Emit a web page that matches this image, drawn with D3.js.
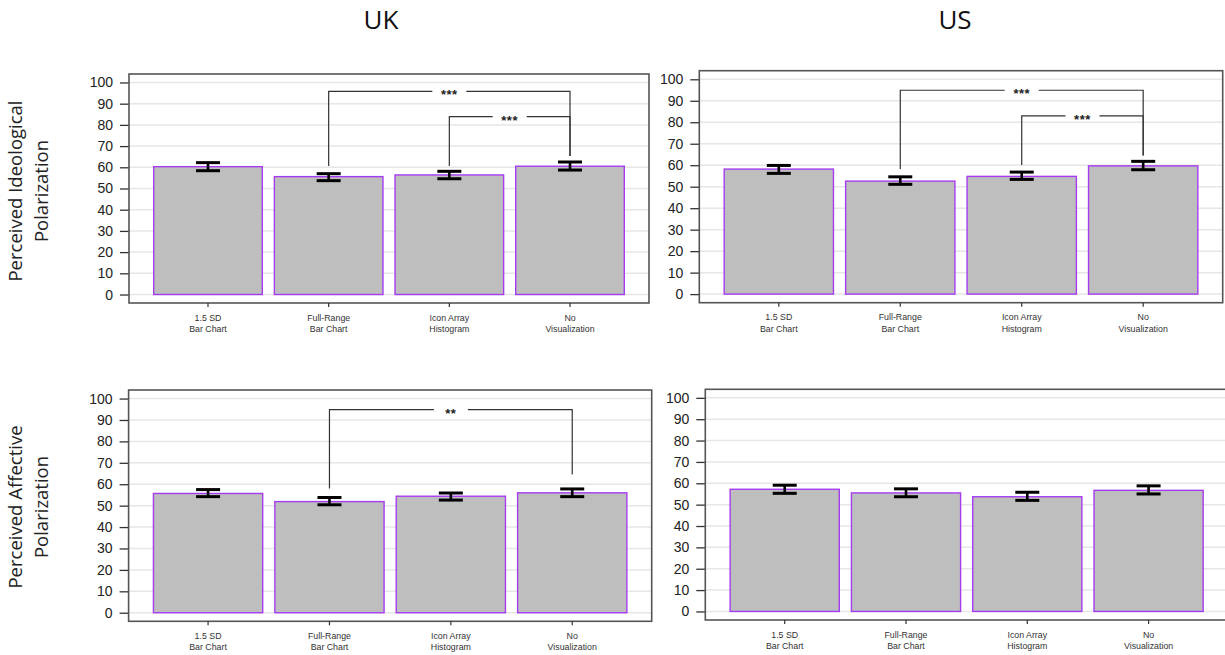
<!DOCTYPE html>
<html>
<head>
<meta charset="utf-8">
<script src="https://cdn.jsdelivr.net/npm/d3@7/dist/d3.min.js"></script>
<style>
  html, body { margin: 0; padding: 0; background: #fff; }
  svg { display: block; }
</style>
</head>
<body>
<svg id="chart" width="1225" height="655"></svg>
<script>
// ---------------- DATA ----------------
const catLine1 = ["1.5 SD", "Full-Range", "Icon Array", "No"];
const catLine2 = ["Bar Chart", "Bar Chart", "Histogram", "Visualization"];
const yTicks = [0, 10, 20, 30, 40, 50, 60, 70, 80, 90, 100];

const countryTitles = ["UK", "US"];
const rowTitles = [["Perceived Ideological", "Polarization"], ["Perceived Affective", "Polarization"]];

// UK – ideological
const ukIdeoMean = [60.3, 55.6, 56.4, 60.5];
const ukIdeoLo   = [58.4, 53.7, 54.6, 58.7];
const ukIdeoHi   = [62.2, 57.0, 58.1, 62.5];
// US – ideological
const usIdeoMean = [58.2, 52.6, 54.8, 59.7];
const usIdeoLo   = [56.2, 51.1, 53.4, 57.9];
const usIdeoHi   = [59.9, 54.6, 56.8, 61.8];
// UK – affective
const ukAffMean  = [55.7, 51.9, 54.4, 56.0];
const ukAffLo    = [54.2, 50.4, 52.6, 54.2];
const ukAffHi    = [57.5, 53.8, 55.9, 57.8];
// US – affective
const usAffMean  = [57.2, 55.5, 53.7, 56.7];
const usAffLo    = [55.3, 53.7, 52.0, 55.0];
const usAffHi    = [59.1, 57.4, 55.8, 58.8];

// significance brackets: from/to category index, bracket level, leg ends, label
const ukIdeoSig = [
  { from: 1, to: 3, level: 95.8, fromEnd: 60.6, toEnd: 65.3, label: "***" },
  { from: 2, to: 3, level: 83.9, fromEnd: 60.6, toEnd: 65.3, label: "***" }
];
const usIdeoSig = [
  { from: 1, to: 3, level: 94.9, fromEnd: 58.2, toEnd: 64.5, label: "***" },
  { from: 2, to: 3, level: 83.0, fromEnd: 60.1, toEnd: 64.5, label: "***" }
];
const ukAffSig = [
  { from: 1, to: 3, level: 94.8, fromEnd: 58.0, toEnd: 64.6, label: "**" }
];
const usAffSig = [];

// ---------------- LAYOUT ----------------
const panels = [
  { frame: { x0: 129,   x1: 649,    y0: 74,    y1: 303 },   mean: ukIdeoMean, lo: ukIdeoLo, hi: ukIdeoHi, sig: ukIdeoSig },
  { frame: { x0: 699.3, x1: 1222.7, y0: 70.7,  y1: 302.7 }, mean: usIdeoMean, lo: usIdeoLo, hi: usIdeoHi, sig: usIdeoSig },
  { frame: { x0: 128.6, x1: 651.7,  y0: 390,   y1: 621.3 }, mean: ukAffMean,  lo: ukAffLo,  hi: ukAffHi,  sig: ukAffSig },
  { frame: { x0: 705.3, x1: 1228,   y0: 389.3, y1: 620 },   mean: usAffMean,  lo: usAffLo,  hi: usAffHi,  sig: usAffSig }
];

const svg = d3.select("#chart");
const tickFont = "'Liberation Sans', Arial, sans-serif";
const titleFont = "'Open Sans', 'Noto Sans', sans-serif";

// column titles
const titleX = [381, 955];
countryTitles.forEach((t, i) => {
  svg.append("text")
    .attr("x", titleX[i]).attr("y", 29)
    .attr("text-anchor", "middle")
    .attr("font-family", titleFont)
    .attr("font-size", 26)
    .attr("fill", "#111")
    .text(t);
});

// row titles
const rowCenterY = [191, 507];
rowTitles.forEach((lines, r) => {
  lines.forEach((ln, j) => {
    const cx = j === 0 ? 16 : 42;
    svg.append("text")
      .attr("transform", `translate(${cx},${rowCenterY[r]}) rotate(-90)`)
      .attr("text-anchor", "middle")
      .attr("dy", "0.35em")
      .attr("font-family", titleFont)
      .attr("font-size", 18.5)
      .attr("fill", "#222")
      .text(ln);
  });
});

panels.forEach(p => {
  const f = p.frame;
  const w = f.x1 - f.x0;
  const g = svg.append("g");

  const y = d3.scaleLinear().domain([-4, 104]).range([f.y1, f.y0]);
  const x = d3.scaleBand()
    .domain(d3.range(catLine1.length))
    .range([f.x0 + 0.0475 * w, f.x1 - 0.0475 * w])
    .paddingInner(0.1)
    .paddingOuter(0);

  // gridlines
  g.append("g").selectAll("line").data(yTicks).join("line")
    .attr("x1", f.x0).attr("x2", f.x1)
    .attr("y1", d => y(d)).attr("y2", d => y(d))
    .attr("stroke", "#e6e6e6").attr("stroke-width", 1.5);

  // y axis (ticks + labels) via d3.axisLeft
  const yAxis = d3.axisLeft(y).tickValues(yTicks).tickSize(9).tickPadding(7).tickFormat(d3.format("d"));
  const ya = g.append("g").attr("transform", `translate(${f.x0},0)`).call(yAxis);
  ya.select(".domain").remove();
  ya.selectAll(".tick line").attr("stroke", "#333").attr("stroke-width", 1.3);
  ya.selectAll(".tick text")
    .attr("font-family", tickFont).attr("font-size", 14).attr("fill", "#222");

  // bars
  g.append("g").selectAll("rect").data(p.mean).join("rect")
    .attr("x", (d, i) => x(i))
    .attr("width", x.bandwidth())
    .attr("y", d => y(d))
    .attr("height", d => y(0) - y(d))
    .attr("fill", "#bebebe")
    .attr("stroke", "#a63cf2")
    .attr("stroke-width", 1.4);

  // error bars
  const eb = g.append("g").attr("stroke", "#000").attr("fill", "none");
  p.mean.forEach((m, i) => {
    const cx = x(i) + x.bandwidth() / 2;
    eb.append("line").attr("x1", cx).attr("x2", cx)
      .attr("y1", y(p.lo[i])).attr("y2", y(p.hi[i])).attr("stroke-width", 2.6);
    [p.lo[i], p.hi[i]].forEach(v => {
      eb.append("line").attr("x1", cx - 12).attr("x2", cx + 12)
        .attr("y1", y(v)).attr("y2", y(v)).attr("stroke-width", 3);
    });
  });

  // significance brackets
  p.sig.forEach(s => {
    const xa = x(s.from) + x.bandwidth() / 2;
    const xb = x(s.to) + x.bandwidth() / 2;
    const yl = y(s.level);
    const mid = (xa + xb) / 2;
    const gap = 17;
    const bg = g.append("g").attr("stroke", "#333").attr("stroke-width", 1.2).attr("fill", "none");
    bg.append("path").attr("d", `M${xa},${y(s.fromEnd)}V${yl}H${mid - gap}`);
    bg.append("path").attr("d", `M${mid + gap},${yl}H${xb}V${y(s.toEnd)}`);
    g.append("text")
      .attr("x", mid).attr("y", yl + 8)
      .attr("text-anchor", "middle")
      .attr("font-family", tickFont).attr("font-weight", "bold")
      .attr("font-size", 13).attr("letter-spacing", 0.5).attr("fill", "#222")
      .text(s.label);
  });

  // frame
  g.append("rect")
    .attr("x", f.x0).attr("y", f.y0)
    .attr("width", w).attr("height", f.y1 - f.y0)
    .attr("fill", "none").attr("stroke", "#555").attr("stroke-width", 1.6);

  // x ticks and labels
  const xg = g.append("g");
  catLine1.forEach((c, i) => {
    const cx = x(i) + x.bandwidth() / 2;
    xg.append("line").attr("x1", cx).attr("x2", cx)
      .attr("y1", f.y1).attr("y2", f.y1 + 4)
      .attr("stroke", "#333").attr("stroke-width", 1.2);
    xg.append("text").attr("x", cx).attr("y", f.y1 + 17.5)
      .attr("text-anchor", "middle").attr("font-family", tickFont)
      .attr("font-size", 8.8).attr("fill", "#333").text(c);
    xg.append("text").attr("x", cx).attr("y", f.y1 + 29)
      .attr("text-anchor", "middle").attr("font-family", tickFont)
      .attr("font-size", 8.8).attr("fill", "#333").text(catLine2[i]);
  });
});
</script>
</body>
</html>
